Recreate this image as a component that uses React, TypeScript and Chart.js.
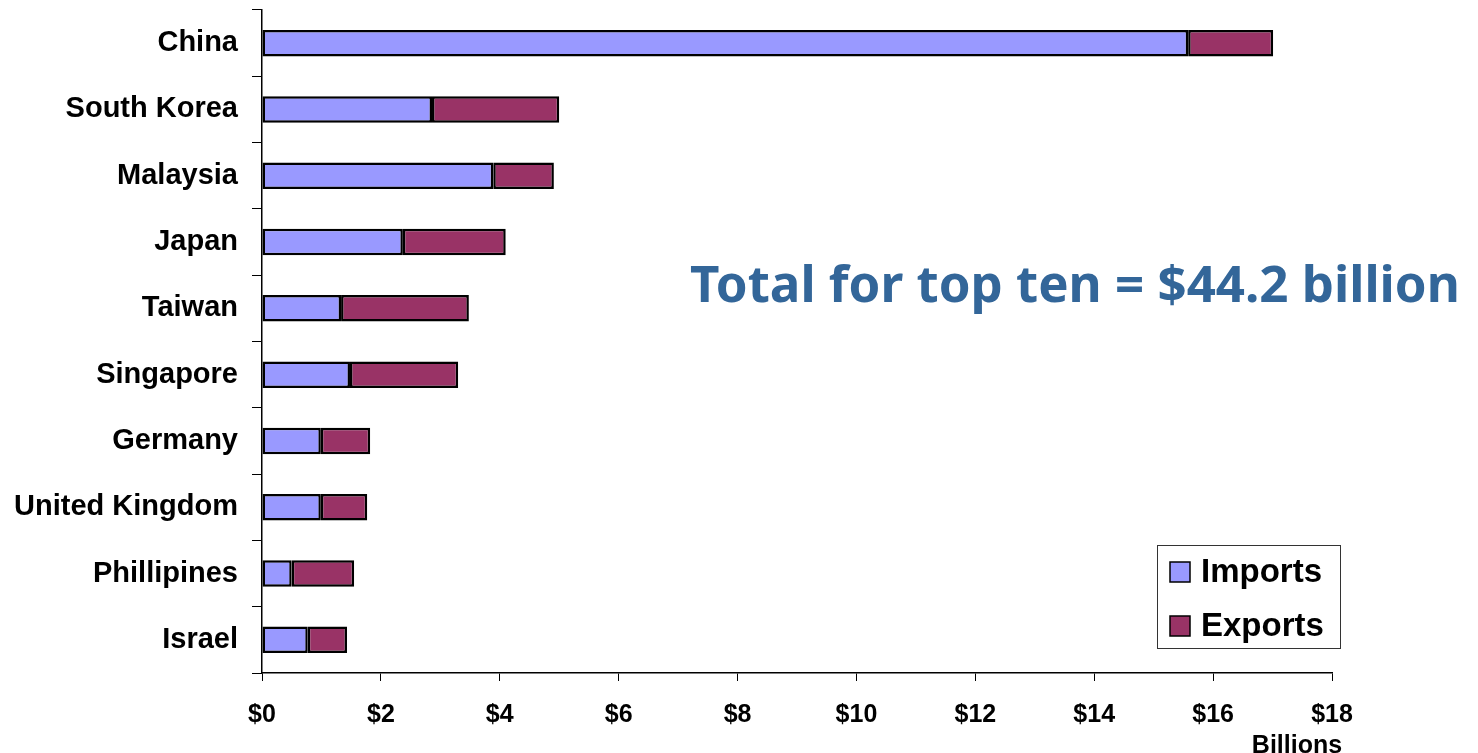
import React, { useEffect, useRef } from "react";
import { Chart, registerables } from "chart.js";

Chart.register(...registerables);

const countries = [
  "China",
  "South Korea",
  "Malaysia",
  "Japan",
  "Taiwan",
  "Singapore",
  "Germany",
  "United Kingdom",
  "Phillipines",
  "Israel",
];
const imports = [15.58, 2.86, 3.89, 2.37, 1.33, 1.48, 0.99, 0.99, 0.5, 0.77];
const exports = [1.43, 2.14, 1.02, 1.73, 2.15, 1.82, 0.83, 0.78, 1.05, 0.66];
const xTicks = [0, 2, 4, 6, 8, 10, 12, 14, 16, 18];
const totalText = "Total for top ten = $44.2 billion";
const unitText = "Billions";

const IMPORT_COLOR = "#9999FF";
const EXPORT_COLOR = "#993366";
const LABEL_FONT = "'Liberation Sans', Arial, sans-serif";

const overlayPlugin = {
  id: "overlay",
  afterDraw(chart: any) {
    const ctx = chart.ctx as CanvasRenderingContext2D;
    ctx.save();
    // Headline annotation
    ctx.fillStyle = "#336699";
    ctx.font = "bold 51px 'Noto Sans', sans-serif";
    ctx.textAlign = "left";
    ctx.textBaseline = "alphabetic";
    ctx.fillText(totalText, 690, 302);

    // Units label
    ctx.fillStyle = "#000";
    ctx.font = `bold 25px ${LABEL_FONT}`;
    ctx.textAlign = "center";
    ctx.fillText(unitText, 1297, 753);

    // Legend
    const bx = 1157, by = 545, bw = 183, bh = 103;
    ctx.fillStyle = "#fff";
    ctx.fillRect(bx, by, bw, bh);
    ctx.strokeStyle = "#333";
    ctx.lineWidth = 1;
    ctx.strokeRect(bx + 0.5, by + 0.5, bw, bh);
    const items = chart.data.datasets;
    const rowsY = [572, 626];
    ctx.font = `bold 33px ${LABEL_FONT}`;
    ctx.textAlign = "left";
    ctx.textBaseline = "middle";
    items.forEach((ds: any, i: number) => {
      const cy = rowsY[i];
      ctx.fillStyle = ds.backgroundColor;
      ctx.fillRect(1170, cy - 10, 20, 20);
      ctx.strokeStyle = "#000";
      ctx.lineWidth = 1.5;
      ctx.strokeRect(1170, cy - 10, 20, 20);
      ctx.fillStyle = "#000";
      ctx.fillText(ds.label, 1201, cy + 1);
    });
    ctx.restore();
  },
};

export default function App() {
  const ref = useRef<HTMLCanvasElement | null>(null);
  useEffect(() => {
    if (!ref.current) return;
    const chart = new Chart(ref.current, {
      type: "bar",
      data: {
        labels: countries,
        datasets: [
          {
            label: "Imports",
            data: imports,
            backgroundColor: IMPORT_COLOR,
            borderColor: "#000",
            borderWidth: 2.5,
            borderSkipped: false,
            categoryPercentage: 0.8,
            barPercentage: 0.5,
          },
          {
            label: "Exports",
            data: exports,
            backgroundColor: EXPORT_COLOR,
            borderColor: "#000",
            borderWidth: 2.5,
            borderSkipped: false,
            categoryPercentage: 0.8,
            barPercentage: 0.5,
          },
        ],
      },
      options: {
        indexAxis: "y",
        responsive: false,
        animation: false,
        devicePixelRatio: 1,
        layout: { padding: { top: 10, right: 146, left: 0, bottom: 0 } },
        plugins: {
          legend: { display: false },
          tooltip: { enabled: false },
        },
        scales: {
          x: {
            stacked: true,
            min: 0,
            max: 18,
            afterBuildTicks: (s: any) => {
              s.ticks = xTicks.map((v) => ({ value: v }));
            },
            ticks: {
              callback: (v: any) => "$" + v,
              color: "#000",
              font: { family: LABEL_FONT, size: 25, weight: "bold" },
              padding: 19,
              maxRotation: 0,
            },
            grid: {
              drawOnChartArea: false,
              drawTicks: true,
              tickLength: 8,
              color: "#000",
            },
            border: { color: "#000", width: 1.5 },
            afterFit: (s: any) => {
              s.height = 80;
              s.paddingLeft = 0;
            },
          },
          y: {
            stacked: true,
            ticks: {
              color: "#000",
              font: { family: LABEL_FONT, size: 29, weight: "bold" },
              padding: 14,
            },
            grid: {
              drawOnChartArea: false,
              drawTicks: true,
              tickLength: 10,
              color: "#000",
              offset: true,
            },
            border: { color: "#000", width: 1.5 },
            afterFit: (s: any) => {
              s.width = 262;
              s.paddingTop = 0;
              s.paddingBottom = 0;
            },
          },
        },
      },
      plugins: [overlayPlugin],
    });
    return () => chart.destroy();
  }, []);
  return (
    <div style={{ position: "absolute", left: 0, top: 0, width: 1478, height: 753, background: "#fff" }}>
      <canvas ref={ref} width={1478} height={753} />
    </div>
  );
}
